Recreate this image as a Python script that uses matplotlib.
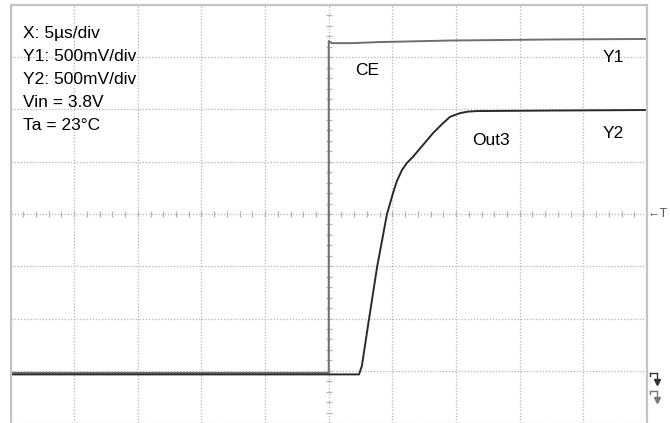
import numpy as np
import matplotlib.pyplot as plt
from matplotlib.lines import Line2D

# scope screen: 10 x divisions, 8 y divisions (values read in divisions)
ce_t = [0, 4.99, 5.0, 5.0, 5.05, 5.21, 5.37, 5.78, 6.91, 8.48, 10]
ce_v = [0.96, 0.96, 0.96, 7.31, 7.27, 7.27, 7.27, 7.29, 7.32, 7.34, 7.35]

out_t = [0, 5.475, 5.52, 5.63, 5.76, 5.915, 6.01, 6.07, 6.15, 6.23, 6.32,
         6.48, 6.64, 6.78, 6.905, 7.06, 7.19, 7.33, 8.48, 10]
out_v = [0.93, 0.93, 1.09, 1.97, 2.99, 4.0, 4.40, 4.63, 4.84, 4.98, 5.09,
         5.32, 5.55, 5.72, 5.86, 5.93, 5.96, 5.97, 5.98, 5.99]

info = ["X: 5\u00b5s/div", "Y1: 500mV/div", "Y2: 500mV/div", "Vin = 3.8V", "Ta = 23\u00b0C"]

plt.rcParams['font.family'] = ['Liberation Sans', 'DejaVu Sans']

fig = plt.figure(figsize=(6.7, 4.23), dpi=100)
ax = fig.add_axes([10.5 / 670, 0, 636.5 / 670, 418 / 423])
ax.set_xlim(0, 10)
ax.set_ylim(0, 8)

ax.set_xticks(range(11))
ax.set_yticks(range(9))
ax.tick_params(length=0, labelbottom=False, labelleft=False)
ax.grid(True, linestyle=(0, (1, 1.5)), color='#b4b4b4', linewidth=0.9)
for s in ['left', 'right', 'top']:
    ax.spines[s].set_color('#c4c4c4')
    ax.spines[s].set_linewidth(1.6)
ax.spines['bottom'].set_visible(False)

# minor marks on the centre lines
mt = np.arange(0, 10.01, 0.2)
ax.plot(mt, np.full(mt.shape, 4.0), ls='none', marker='|', ms=5, mew=0.9, color='#b4b4b4')
mv = np.arange(0, 8.01, 0.2)
ax.plot(np.full(mv.shape, 5.0), mv, ls='none', marker='_', ms=5, mew=0.9, color='#b4b4b4')

ax.plot(ce_t, ce_v, color='#6e6e6e', lw=1.4)
ax.plot(out_t, out_v, color='#2a2a2a', lw=1.4)

fs = 12.5
for i, s in enumerate(info):
    ax.text(0.2, 7.46 - i * 0.44, s, fontsize=fs, va='center', ha='left')
ax.text(5.6, 6.75, "CE", fontsize=fs, va='center', ha='center')
ax.text(9.47, 7.0, "Y1", fontsize=fs, va='center', ha='center')
ax.text(9.47, 5.55, "Y2", fontsize=fs, va='center', ha='center')
ax.text(7.55, 5.4, "Out3", fontsize=fs, va='center', ha='center')
fig.text(668 / 670, 1 - 214 / 423, "\u2190T", fontsize=9, va='center', ha='right',
         color='#555555')

# ground markers at right edge
fx = lambda p: p / 670
fy = lambda p: 1 - p / 423
for y0, c in [(373, '#333333'), (391, '#777777')]:
    fig.add_artist(Line2D([fx(650), fx(657)], [fy(y0), fy(y0)], color=c, lw=1.0))
    fig.add_artist(Line2D([fx(650), fx(650)], [fy(y0), fy(y0 + 2.5)], color=c, lw=1.0))
    fig.add_artist(Line2D([fx(657), fx(657)], [fy(y0), fy(y0 + 9)], color=c, lw=1.0))
    fig.add_artist(Line2D([fx(657)], [fy(y0 + 9)], marker='v', ms=5, color=c, ls='none'))

fig.savefig('out.png', dpi=100)
